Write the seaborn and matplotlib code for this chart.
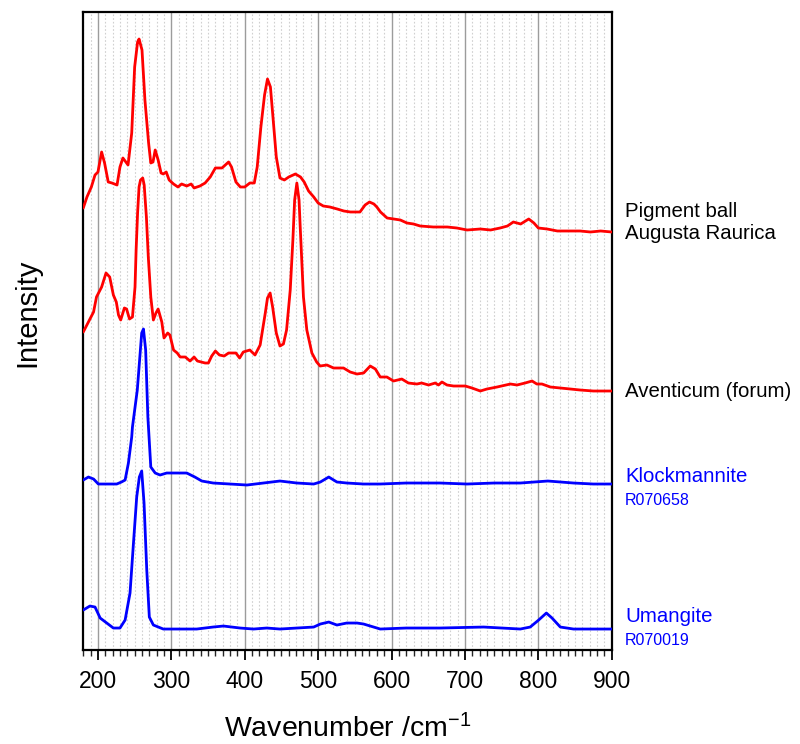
import numpy as np
import pandas as pd
import matplotlib
matplotlib.use("Agg")
import matplotlib.pyplot as plt
from matplotlib.ticker import MultipleLocator
import seaborn as sns

# ---------------- data ----------------
# Pigment ball, Augusta Raurica (red, top)
augusta_wn = [180, 185, 191, 196, 200, 205, 209, 214, 219, 226, 230, 234, 241, 246, 250, 254, 256,
              260, 264, 269, 272, 275, 278, 282, 286, 289, 293, 297, 303, 309, 314, 321, 327, 331,
              339, 346, 353, 360, 369, 378, 382, 388, 394, 400, 407, 413, 417, 422, 427, 431, 435,
              438, 443, 448, 454, 460, 469, 476, 481, 487, 494, 500, 507, 516, 526, 535, 544, 557,
              564, 570, 576, 580, 585, 594, 603, 612, 621, 630, 639, 657, 676, 689, 703, 721, 735,
              748, 758, 766, 776, 787, 794, 800, 812, 826, 839, 857, 871, 885, 900]
augusta_int = [444, 455, 465, 477, 480, 500, 489, 470, 469, 467, 485, 494, 487, 519, 585, 610, 613,
               602, 552, 509, 489, 490, 502, 492, 479, 478, 480, 472, 468, 465, 468, 466, 468, 464,
               466, 469, 475, 484, 484, 490, 485, 470, 465, 465, 469, 469, 485, 525, 557, 573, 565,
               539, 495, 474, 472, 475, 478, 475, 470, 461, 455, 449, 446, 445, 443, 441, 440, 440,
               447, 450, 448, 445, 440, 434, 433, 432, 429, 428, 426, 425, 425, 424, 422, 423, 422,
               424, 426, 430, 428, 433, 429, 424, 423, 421, 421, 421, 420, 421, 420]

# Aventicum (forum) (red, second)
aventicum_wn = [180, 187, 194, 198, 205, 211, 216, 221, 225, 228, 231, 236, 239, 243, 247, 250.5, 252,
                254, 256, 258, 261, 263, 266, 268.6, 272, 275.5, 279, 282, 287, 290, 295, 298, 303,
                308, 312, 319, 325.5, 331, 335.5, 346, 350.5, 355, 360, 365.5, 372, 378, 388, 393,
                398, 407, 414, 421, 428, 431, 434.6, 438, 443, 448, 452.7, 457, 462, 465.6, 468, 471,
                474, 475.6, 480, 484.6, 491.5, 498, 502.7, 512, 521, 534.6, 543.7, 553, 562, 571,
                578, 584.6, 593.7, 602.7, 614, 623, 634.6, 641, 650.5, 659.6, 664, 668.7, 675.6,
                684.6, 700.5, 709.6, 721, 730, 743.8, 762, 771, 782, 791.5, 798, 805, 816.4, 830,
                843.7, 857, 875, 900]
aventicum_int = [320, 330, 340, 355, 365, 379, 375, 357, 350, 337, 332, 344, 343, 333, 335, 365, 402,
                 439, 465, 472, 474, 467, 435, 395, 355, 332, 339, 343, 330, 314, 319, 317, 302,
                 299, 295, 295, 291, 295, 291, 289, 289, 296, 301, 297, 296, 299, 299, 294,
                 300, 302, 297, 307, 339, 354, 359, 345, 319, 306, 308, 322, 362, 412, 452, 469,
                 452, 425, 355, 322, 299, 290, 286, 287, 284, 284, 280, 278, 279, 286,
                 283, 275, 275, 271, 273, 269, 268, 269, 267, 269, 267, 270, 267,
                 266, 266, 264, 261, 263, 265, 268, 267, 269, 271, 268, 268, 265, 264,
                 263, 262, 261, 261]

# Klockmannite R070658 (blue)
klock_wn = [180, 187, 194, 200.5, 212, 225.6, 232, 237, 241.5, 246, 247, 253.6, 259.6, 262, 265, 268,
            272, 278, 284.6, 293.7, 307, 321, 332, 341.5, 357, 380, 403, 425.5, 448, 471, 494, 503,
            514.5, 525.6, 539, 562, 584.6, 620, 666, 703, 740, 775.5, 813, 848, 875, 900]
klock_int = [172, 175, 173, 168, 168, 168, 170, 172, 189, 215, 225, 262, 319, 323, 302, 235,
             185, 179, 177, 179, 179, 179, 175, 171, 169, 168, 167, 169, 171, 169, 168, 170,
             175, 170, 169, 168, 168, 169, 169, 168, 169, 169, 171, 169, 168, 168]

# Umangite R070019 (blue)
umang_wn = [180, 189, 196, 203, 212, 221, 230, 237, 243.7, 248, 252.8, 256.4, 259.6, 262.8, 266.5, 270,
            275.5, 289, 312, 334.6, 357, 371, 393.7, 412, 430, 448, 471, 494, 503, 514.5, 525.6, 539,
            553, 562, 575.6, 584.6, 620, 666, 725.5, 775.5, 789, 800.5, 811, 818.7, 830, 848, 875, 900]
umang_int = [42, 46, 45, 34, 29, 24, 24, 32, 59, 105, 155, 175, 181, 149, 82, 35,
             27, 23, 23, 23, 25, 26, 24, 23, 24, 23, 24, 25, 28, 30, 27, 29,
             29, 28, 25, 23, 24, 24, 25, 23, 25, 32, 39, 34, 25, 23, 23, 23]

labels = ["Pigment ball", "Augusta Raurica", "Aventicum (forum)", "Klockmannite", "R070658",
          "Umangite", "R070019"]
x_ticks = [200, 300, 400, 500, 600, 700, 800, 900]

RED = "#ff0000"
BLUE = "#0000ff"

# ---------------- style ----------------
sns.set_style("white")
plt.rcParams["font.family"] = ["Liberation Sans", "DejaVu Sans"]
plt.rcParams["mathtext.fontset"] = "custom"
plt.rcParams["mathtext.rm"] = "Liberation Sans"
plt.rcParams["mathtext.it"] = "Liberation Sans"
plt.rcParams["text.color"] = "black"
plt.rcParams["axes.labelcolor"] = "black"

fig = plt.figure(figsize=(8.0, 7.44), dpi=100)
ax = fig.add_axes([0.1041, 0.1263, 0.6605, 0.8576])

series = [
    (augusta_wn, augusta_int, RED),
    (aventicum_wn, aventicum_int, RED),
    (klock_wn, klock_int, BLUE),
    (umang_wn, umang_int, BLUE),
]
for wn, inten, col in series:
    df = pd.DataFrame({"wn": wn, "I": inten})
    sns.lineplot(data=df, x="wn", y="I", color=col, linewidth=2.0, sort=False,
                 estimator=None, ax=ax, zorder=3)

ax.set_xlim(180, 900)
ax.set_ylim(2, 640)
ax.set_xticks(x_ticks)
ax.xaxis.set_minor_locator(MultipleLocator(10))
ax.set_yticks([])

ax.set_axisbelow(True)
ax.grid(which="minor", axis="x", color="#d0d0d0", linestyle=(0, (1.5, 1.8)), linewidth=0.8, zorder=0)
ax.grid(which="major", axis="x", color="#9c9c9c", linestyle="-", linewidth=1.0, zorder=0)

for s in ax.spines.values():
    s.set_visible(True)
    s.set_color("black")
    s.set_linewidth(1.6)

ax.tick_params(axis="x", which="major", direction="out", length=7, width=1.3,
               labelsize=16.5, pad=7.5, colors="black", bottom=True)
ax.tick_params(axis="x", which="minor", direction="out", length=4, width=1.0, bottom=True)

ax.set_xlabel("Wavenumber /cm$^{-1}$", fontsize=20.5, labelpad=15, color="black")
ax.set_ylabel("Intensity", fontsize=21, color="black")
ax.yaxis.set_label_coords(-0.08, 0.528)

tr = ax.get_yaxis_transform()
lx = 1.025
ax.text(lx, 435.3, labels[0], transform=tr, fontsize=14.7, color="black", va="baseline", ha="left")
ax.text(lx, 412.7, labels[1], transform=tr, fontsize=14.7, color="black", va="baseline", ha="left")
ax.text(lx, 255.3, labels[2], transform=tr, fontsize=14.7, color="black", va="baseline", ha="left")
ax.text(lx, 170.3, labels[3], transform=tr, fontsize=14.7, color=BLUE, va="baseline", ha="left")
ax.text(lx, 147.0, labels[4], transform=tr, fontsize=11.5, color=BLUE, va="baseline", ha="left")
ax.text(lx, 30.3, labels[5], transform=tr, fontsize=14.7, color=BLUE, va="baseline", ha="left")
ax.text(lx, 7.0, labels[6], transform=tr, fontsize=11.5, color=BLUE, va="baseline", ha="left")

fig.savefig("out.png", dpi=100, facecolor="white")
